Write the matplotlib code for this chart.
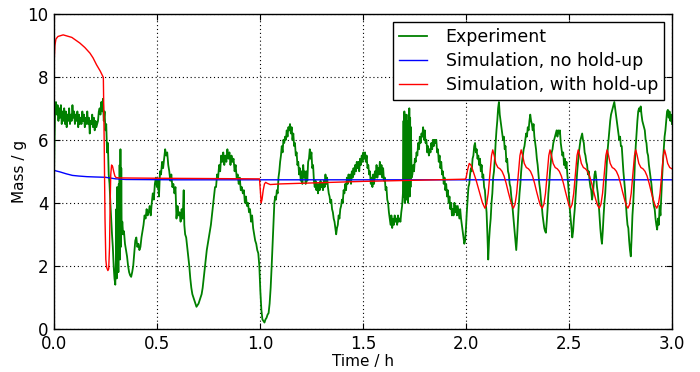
import matplotlib
matplotlib.use("Agg")
import matplotlib.pyplot as plt

# Experiment: mass readings (time in h, mass in g)
exp_t = [
    0.000, 0.003, 0.006, 0.010, 0.014, 0.018, 0.022, 0.026, 0.030, 0.034, 0.038, 0.042, 0.046, 0.050,
    0.054, 0.058, 0.062, 0.066, 0.070, 0.074, 0.078, 0.082, 0.086, 0.090, 0.094, 0.098, 0.102, 0.106,
    0.110, 0.114, 0.118, 0.122, 0.126, 0.130, 0.134, 0.138, 0.142, 0.146, 0.150, 0.154, 0.158, 0.162,
    0.166, 0.170, 0.174, 0.178, 0.182, 0.186, 0.190, 0.194, 0.198, 0.202, 0.206, 0.210, 0.214, 0.218,
    0.222, 0.226, 0.230, 0.234, 0.238, 0.242, 0.246, 0.250, 0.254, 0.258, 0.262, 0.266, 0.270, 0.274,
    0.278, 0.282, 0.286, 0.290, 0.294, 0.298, 0.301, 0.303, 0.305, 0.307, 0.309, 0.311, 0.313, 0.315,
    0.317, 0.319, 0.321, 0.323, 0.325, 0.327, 0.329, 0.332, 0.336, 0.340, 0.345, 0.350, 0.355, 0.360,
    0.365, 0.370, 0.375, 0.380, 0.385, 0.390, 0.395, 0.400, 0.405, 0.410, 0.415, 0.420, 0.425, 0.430,
    0.435, 0.440, 0.445, 0.450, 0.455, 0.460, 0.465, 0.470, 0.475, 0.480, 0.485, 0.490, 0.495, 0.500,
    0.505, 0.510, 0.515, 0.520, 0.525, 0.530, 0.535, 0.540, 0.545, 0.550, 0.555, 0.560, 0.565, 0.570,
    0.575, 0.580, 0.585, 0.590, 0.595, 0.600, 0.605, 0.610, 0.615, 0.620, 0.625, 0.630, 0.633, 0.637,
    0.642, 0.647, 0.652, 0.657, 0.662, 0.667, 0.672, 0.677, 0.682, 0.687, 0.692, 0.697, 0.702, 0.707,
    0.712, 0.717, 0.722, 0.727, 0.732, 0.737, 0.742, 0.747, 0.752, 0.757, 0.762, 0.767, 0.772, 0.777,
    0.782, 0.787, 0.792, 0.797, 0.802, 0.807, 0.812, 0.817, 0.822, 0.827, 0.832, 0.837, 0.842, 0.847,
    0.852, 0.857, 0.862, 0.867, 0.872, 0.877, 0.882, 0.887, 0.892, 0.897, 0.902, 0.907, 0.912, 0.917,
    0.922, 0.927, 0.932, 0.937, 0.942, 0.947, 0.952, 0.957, 0.962, 0.967, 0.972, 0.977, 0.982, 0.987,
    0.992, 0.997, 1.002, 1.007, 1.012, 1.017, 1.022, 1.027, 1.032, 1.037, 1.042, 1.047, 1.052, 1.057,
    1.062, 1.066, 1.070, 1.074, 1.078, 1.082, 1.086, 1.090, 1.094, 1.098, 1.102, 1.106, 1.110, 1.114,
    1.118, 1.122, 1.126, 1.130, 1.134, 1.138, 1.142, 1.146, 1.150, 1.154, 1.158, 1.162, 1.166, 1.170,
    1.174, 1.178, 1.182, 1.186, 1.190, 1.194, 1.198, 1.202, 1.206, 1.210, 1.214, 1.218, 1.222, 1.226,
    1.230, 1.234, 1.238, 1.242, 1.246, 1.250, 1.254, 1.258, 1.262, 1.266, 1.270, 1.274, 1.278, 1.282,
    1.286, 1.290, 1.294, 1.298, 1.302, 1.306, 1.310, 1.314, 1.318, 1.322, 1.326, 1.330, 1.334, 1.338,
    1.342, 1.346, 1.350, 1.354, 1.358, 1.362, 1.366, 1.370, 1.374, 1.378, 1.382, 1.386, 1.390, 1.394,
    1.398, 1.402, 1.406, 1.410, 1.414, 1.418, 1.422, 1.426, 1.430, 1.434, 1.438, 1.442, 1.446, 1.450,
    1.454, 1.458, 1.462, 1.466, 1.470, 1.474, 1.478, 1.482, 1.486, 1.490, 1.494, 1.498, 1.502, 1.506,
    1.510, 1.514, 1.518, 1.522, 1.526, 1.530, 1.534, 1.538, 1.542, 1.546, 1.550, 1.554, 1.558, 1.562,
    1.566, 1.570, 1.574, 1.578, 1.582, 1.586, 1.590, 1.594, 1.598, 1.602, 1.606, 1.610, 1.614, 1.618,
    1.622, 1.626, 1.630, 1.634, 1.638, 1.642, 1.646, 1.650, 1.654, 1.658, 1.662, 1.666, 1.670, 1.674,
    1.678, 1.682, 1.686, 1.690, 1.694, 1.697, 1.699, 1.701, 1.703, 1.705, 1.707, 1.709, 1.711, 1.713,
    1.715, 1.717, 1.719, 1.721, 1.723, 1.725, 1.727, 1.729, 1.731, 1.733, 1.736, 1.740, 1.744, 1.748,
    1.752, 1.756, 1.760, 1.764, 1.768, 1.772, 1.776, 1.780, 1.784, 1.788, 1.792, 1.796, 1.800, 1.804,
    1.808, 1.812, 1.816, 1.820, 1.824, 1.828, 1.832, 1.836, 1.840, 1.844, 1.848, 1.852, 1.856, 1.860,
    1.864, 1.868, 1.872, 1.876, 1.880, 1.884, 1.888, 1.892, 1.896, 1.900, 1.904, 1.908, 1.912, 1.916,
    1.920, 1.924, 1.928, 1.932, 1.936, 1.940, 1.944, 1.948, 1.952, 1.956, 1.960, 1.964, 1.968, 1.972,
    1.976, 1.980, 1.984, 1.988, 1.992, 1.996, 2.000, 2.004, 2.008, 2.012, 2.016, 2.020, 2.024, 2.028,
    2.032, 2.036, 2.040, 2.044, 2.048, 2.052, 2.056, 2.060, 2.064, 2.068, 2.072, 2.076, 2.080, 2.084,
    2.088, 2.092, 2.096, 2.100, 2.104, 2.108, 2.112, 2.116, 2.120, 2.124, 2.128, 2.132, 2.136, 2.140,
    2.144, 2.148, 2.152, 2.156, 2.160, 2.164, 2.168, 2.172, 2.176, 2.180, 2.184, 2.188, 2.192, 2.196,
    2.200, 2.204, 2.208, 2.212, 2.216, 2.220, 2.224, 2.228, 2.232, 2.236, 2.240, 2.244, 2.248, 2.252,
    2.256, 2.260, 2.264, 2.268, 2.272, 2.276, 2.280, 2.284, 2.288, 2.292, 2.296, 2.300, 2.304, 2.308,
    2.312, 2.316, 2.320, 2.324, 2.328, 2.332, 2.336, 2.340, 2.344, 2.348, 2.352, 2.356, 2.360, 2.364,
    2.368, 2.372, 2.376, 2.380, 2.384, 2.388, 2.392, 2.396, 2.400, 2.404, 2.408, 2.412, 2.416, 2.420,
    2.424, 2.428, 2.432, 2.436, 2.440, 2.444, 2.448, 2.452, 2.456, 2.460, 2.464, 2.468, 2.472, 2.476,
    2.480, 2.484, 2.488, 2.492, 2.496, 2.500, 2.504, 2.508, 2.512, 2.516, 2.520, 2.524, 2.528, 2.532,
    2.536, 2.540, 2.544, 2.548, 2.552, 2.556, 2.560, 2.564, 2.568, 2.572, 2.576, 2.580, 2.584, 2.588,
    2.592, 2.596, 2.600, 2.604, 2.608, 2.612, 2.616, 2.620, 2.624, 2.628, 2.632, 2.636, 2.640, 2.644,
    2.648, 2.652, 2.656, 2.660, 2.664, 2.668, 2.672, 2.676, 2.680, 2.684, 2.688, 2.692, 2.696, 2.700,
    2.704, 2.708, 2.712, 2.716, 2.720, 2.724, 2.728, 2.732, 2.736, 2.740, 2.744, 2.748, 2.752, 2.756,
    2.760, 2.764, 2.768, 2.772, 2.776, 2.780, 2.784, 2.788, 2.792, 2.796, 2.800, 2.804, 2.808, 2.812,
    2.816, 2.820, 2.824, 2.828, 2.832, 2.836, 2.840, 2.844, 2.848, 2.852, 2.856, 2.860, 2.864, 2.868,
    2.872, 2.876, 2.880, 2.884, 2.888, 2.892, 2.896, 2.900, 2.904, 2.908, 2.912, 2.916, 2.920, 2.924,
    2.928, 2.932, 2.936, 2.940, 2.944, 2.948, 2.952, 2.956, 2.960, 2.964, 2.968, 2.972, 2.976, 2.980,
    2.984, 2.988, 2.992, 2.996, 3.000,
]
exp_mass = [
    4.5, 6.0, 7.0, 7.2, 6.8, 7.1, 6.6, 7.0, 6.7, 7.1, 6.5, 6.9, 6.6, 7.0,
    6.5, 6.9, 6.4, 6.8, 6.6, 7.0, 6.5, 6.8, 6.6, 7.1, 6.7, 6.9, 6.5, 6.8,
    6.6, 6.9, 6.4, 6.8, 6.5, 6.7, 6.5, 6.9, 6.6, 6.8, 6.4, 6.7, 6.5, 6.9,
    6.5, 6.7, 6.2, 6.6, 6.5, 6.8, 6.4, 6.7, 6.3, 6.6, 6.4, 6.5, 6.6, 6.9,
    7.0, 6.8, 7.2, 6.9, 7.3, 6.6, 6.9, 6.3, 6.5, 5.6, 5.9, 4.9, 4.6, 4.0,
    3.5, 3.0, 2.6, 2.0, 1.6, 1.4, 2.2, 3.8, 1.6, 4.5, 2.0, 3.9, 1.8, 4.6,
    2.4, 5.2, 2.2, 5.7, 2.6, 5.1, 3.0, 3.4, 3.0, 3.1, 2.7, 2.5, 2.3, 2.0,
    1.8, 1.7, 1.65, 1.8, 2.0, 2.4, 2.8, 2.9, 2.6, 2.7, 2.5, 2.6, 2.9, 3.1,
    3.3, 3.6, 3.5, 3.8, 3.6, 3.7, 3.9, 3.6, 4.0, 4.3, 4.1, 4.6, 4.8, 4.5,
    4.7, 4.2, 5.0, 4.9, 5.3, 5.1, 5.4, 5.7, 5.5, 5.6, 5.2, 5.0, 4.7, 4.9,
    4.5, 4.6, 4.3, 4.5, 3.5, 3.9, 3.6, 3.7, 3.4, 3.8, 3.5, 4.4, 3.3, 3.0,
    2.9, 2.6, 2.3, 2.0, 1.6, 1.3, 1.1, 1.0, 0.9, 0.8, 0.7, 0.75, 0.8, 0.9,
    1.0, 1.1, 1.3, 1.6, 1.9, 2.2, 2.5, 2.7, 2.9, 3.1, 3.3, 3.6, 3.9, 4.2,
    4.5, 4.5, 4.9, 4.8, 5.2, 5.0, 5.5, 5.3, 5.6, 5.2, 5.5, 5.3, 5.7, 5.4,
    5.6, 5.2, 5.5, 5.3, 5.4, 5.0, 5.2, 4.8, 4.9, 4.6, 4.8, 4.4, 4.5, 4.3,
    4.4, 4.0, 4.2, 3.9, 4.0, 3.7, 3.8, 3.4, 3.6, 3.2, 3.0, 2.8, 2.7, 2.5,
    2.4, 2.0, 1.2, 0.6, 0.3, 0.25, 0.2, 0.3, 0.35, 0.45, 0.5, 0.8, 1.3, 2.0,
    2.8, 3.5, 4.0, 4.2, 4.1, 4.4, 4.3, 4.8, 5.0, 5.3, 5.5, 5.8, 5.6, 6.0,
    5.9, 6.1, 6.0, 6.3, 6.1, 6.4, 6.3, 6.5, 6.2, 6.4, 6.0, 6.2, 5.8, 5.9,
    5.5, 5.6, 5.2, 5.3, 4.9, 5.1, 4.7, 5.0, 4.6, 5.2, 4.8, 5.0, 4.6, 5.0,
    4.7, 5.3, 5.4, 5.7, 5.4, 5.6, 5.1, 5.2, 4.7, 4.5, 4.7, 4.4, 4.6, 4.3,
    4.6, 4.4, 4.7, 4.5, 4.6, 4.4, 4.7, 4.5, 4.9, 4.6, 4.8, 4.5, 4.3, 4.2,
    4.0, 4.1, 3.8, 3.7, 3.5, 3.4, 3.2, 3.0, 3.2, 3.3, 3.6, 3.5, 3.8, 3.9,
    4.1, 4.0, 4.4, 4.3, 4.6, 4.4, 4.8, 4.6, 4.9, 4.7, 4.9, 4.6, 5.0, 4.8,
    5.1, 4.9, 5.2, 5.0, 5.3, 5.1, 5.3, 5.0, 5.4, 5.2, 5.5, 5.3, 5.6, 5.4,
    5.6, 5.3, 5.5, 5.1, 5.2, 4.9, 5.0, 4.6, 4.8, 4.5, 4.9, 4.6, 5.0, 4.8,
    5.2, 4.8, 5.1, 4.9, 5.3, 4.9, 5.2, 4.8, 5.1, 4.7, 4.8, 4.4, 4.5, 4.1,
    4.0, 3.7, 3.5, 3.3, 3.6, 3.2, 3.5, 3.3, 3.6, 3.4, 3.5, 3.3, 3.6, 3.4,
    3.5, 3.4, 3.7, 3.9, 4.3, 6.6, 4.2, 6.9, 4.0, 6.5, 4.3, 6.8, 4.1, 6.2,
    4.4, 6.6, 4.0, 6.8, 4.5, 7.0, 4.2, 6.7, 4.5, 6.4, 4.8, 4.9, 5.2, 5.0,
    5.4, 5.3, 5.6, 5.5, 5.9, 5.7, 6.1, 5.9, 6.2, 6.1, 6.4, 6.0, 6.3, 5.9,
    6.0, 5.6, 5.8, 5.5, 5.7, 5.6, 5.9, 5.7, 6.0, 5.8, 6.0, 5.9, 6.0, 5.6,
    5.7, 5.3, 5.5, 5.1, 5.3, 4.9, 5.0, 4.6, 4.8, 4.4, 4.6, 4.2, 4.4, 4.0,
    4.2, 3.8, 4.0, 3.6, 3.8, 3.6, 4.0, 3.7, 3.9, 3.6, 3.9, 3.7, 3.5, 3.8,
    3.5, 3.3, 3.1, 2.9, 2.7, 2.8, 3.2, 3.7, 4.1, 4.5, 4.6, 4.9, 5.1, 5.0,
    5.4, 5.5, 5.8, 5.9, 5.6, 5.7, 5.4, 5.5, 5.2, 5.4, 5.0, 5.2, 4.8, 4.9,
    4.5, 4.4, 4.0, 3.7, 3.0, 2.2, 2.8, 3.2, 3.5, 4.0, 4.3, 4.8, 5.0, 5.4,
    5.9, 6.3, 6.6, 7.0, 7.2, 6.8, 6.6, 6.4, 6.2, 6.0, 6.1, 5.7, 5.8, 5.3,
    5.4, 5.0, 4.9, 4.6, 4.5, 4.2, 4.0, 3.7, 3.4, 3.1, 2.8, 2.5, 2.9, 3.4,
    3.9, 4.3, 4.6, 5.0, 5.3, 5.5, 5.7, 5.8, 6.0, 6.2, 6.1, 6.4, 6.3, 6.6,
    6.8, 6.6, 6.5, 6.3, 6.5, 6.1, 5.9, 5.7, 5.4, 5.2, 4.9, 4.6, 4.4, 4.1,
    3.9, 3.6, 3.4, 3.2, 3.1, 3.05, 3.4, 3.8, 4.3, 4.6, 5.0, 5.3, 5.6, 5.7,
    5.9, 6.0, 6.1, 6.2, 6.3, 6.1, 6.3, 6.2, 6.3, 5.9, 5.7, 5.5, 5.6, 5.2,
    5.4, 5.1, 5.3, 4.9, 4.6, 4.2, 3.8, 3.5, 3.2, 2.9, 3.1, 3.5, 3.8, 4.2,
    4.6, 5.0, 5.3, 5.6, 5.8, 6.0, 6.1, 6.2, 6.0, 5.9, 5.6, 5.5, 5.3, 5.2,
    4.9, 5.0, 4.7, 4.5, 4.4, 4.1, 4.3, 4.6, 4.9, 5.0, 4.8, 4.5, 4.3, 4.0,
    3.6, 3.2, 2.9, 2.7, 3.1, 3.6, 4.0, 4.3, 4.8, 5.3, 5.7, 6.0, 6.3, 6.6,
    6.8, 6.9, 7.0, 7.1, 7.2, 7.0, 6.8, 6.6, 6.4, 6.2, 6.0, 6.1, 5.8, 5.8,
    5.4, 5.0, 4.7, 4.4, 4.0, 3.6, 3.3, 3.2, 2.8, 2.5, 2.3, 2.9, 3.6, 4.0,
    4.6, 5.3, 5.8, 6.2, 6.6, 6.9, 7.0, 6.9, 7.06, 6.8, 6.6, 6.5, 6.4, 6.3,
    6.0, 5.9, 5.6, 5.5, 5.2, 5.0, 4.8, 4.6, 4.3, 4.1, 3.9, 3.8, 3.5, 3.3,
    3.15, 3.5, 3.3, 3.9, 3.6, 4.2, 4.8, 5.3, 5.7, 6.1, 6.3, 6.6, 6.9, 6.95,
    6.7, 6.9, 6.6, 6.8, 6.5,
]

# Simulation without hold-up
sim_t = [0.00, 0.03, 0.06, 0.09, 0.12, 0.16, 0.20, 0.25, 0.27, 0.30, 0.35, 0.60, 3.00]
sim_mass = [5.03, 4.98, 4.92, 4.87, 4.85, 4.83, 4.82, 4.81, 4.79, 4.76, 4.74, 4.73, 4.73]

# Simulation with hold-up
hold_t = [
    0.000, 0.002, 0.005, 0.010, 0.020, 0.045, 0.087, 0.126, 0.150, 0.175, 0.190, 0.207, 0.225, 0.240,
    0.244, 0.248, 0.252, 0.256, 0.262, 0.266, 0.270, 0.273, 0.276, 0.280, 0.285, 0.290, 0.296, 0.302,
    0.320, 0.500, 0.800, 0.998, 1.002, 1.006, 1.010, 1.016, 1.022, 1.028, 1.035, 1.050, 1.100, 1.500,
    1.995, 2.000, 2.008, 2.016, 2.024, 2.035, 2.050, 2.065, 2.080, 2.092, 2.100, 2.108, 2.116, 2.124,
    2.130, 2.137, 2.145, 2.155, 2.165, 2.175, 2.185, 2.195, 2.205, 2.215, 2.223,
    2.230, 2.238, 2.246, 2.254, 2.262, 2.268, 2.275, 2.283, 2.293, 2.303, 2.313, 2.323, 2.333, 2.343, 2.353, 2.361,
    2.370, 2.378, 2.386, 2.394, 2.402, 2.408, 2.415, 2.423, 2.433, 2.443, 2.453, 2.463, 2.473, 2.483, 2.493, 2.500,
    2.507, 2.515, 2.523, 2.531, 2.539, 2.545, 2.552, 2.560, 2.570, 2.580, 2.590, 2.600, 2.610, 2.620, 2.630, 2.639,
    2.647, 2.655, 2.663, 2.671, 2.679, 2.685, 2.692, 2.700, 2.710, 2.720, 2.730, 2.740, 2.750, 2.760, 2.770, 2.778,
    2.786, 2.794, 2.802, 2.810, 2.818, 2.824, 2.831, 2.839, 2.849, 2.859, 2.869, 2.879, 2.889, 2.899, 2.909, 2.918,
    2.926, 2.934, 2.942, 2.950, 2.958, 2.964, 2.971, 2.979, 2.989, 3.000,
]
hold_mass = [
    7.6, 8.6, 9.0, 9.2, 9.28, 9.33, 9.25, 9.07, 8.93, 8.75, 8.6, 8.38, 8.18, 7.98,
    6.0, 3.5, 2.2, 1.95, 1.85, 1.9, 2.6, 4.0, 4.9, 5.2, 5.15, 5.0, 4.85, 4.8,
    4.79, 4.78, 4.77, 4.76, 4.4, 4.0, 4.1, 4.4, 4.6, 4.65, 4.62, 4.58, 4.6, 4.68,
    4.75, 4.78, 5.05, 5.25, 5.2, 5.0, 4.7, 4.35, 4.0, 3.83, 3.95, 4.3, 4.9, 5.5,
    5.68, 5.5, 5.25, 5.12, 5.08, 5.0, 4.85, 4.62, 4.35, 4.1, 3.92,
    3.83, 3.95, 4.3, 4.9, 5.5, 5.68, 5.5, 5.25, 5.12, 5.08, 5.0, 4.85, 4.62, 4.35, 4.1, 3.92,
    3.83, 3.95, 4.3, 4.9, 5.5, 5.68, 5.5, 5.25, 5.12, 5.08, 5.0, 4.85, 4.62, 4.35, 4.1, 3.92,
    3.83, 3.95, 4.3, 4.9, 5.5, 5.68, 5.5, 5.25, 5.12, 5.08, 5.0, 4.85, 4.62, 4.35, 4.1, 3.92,
    3.83, 3.95, 4.3, 4.9, 5.5, 5.68, 5.5, 5.25, 5.12, 5.08, 5.0, 4.85, 4.62, 4.35, 4.1, 3.92,
    3.83, 3.95, 4.3, 4.9, 5.5, 5.68, 5.5, 5.25, 5.12, 5.08, 5.0, 4.85, 4.62, 4.35, 4.1, 3.92,
    3.83, 3.95, 4.3, 4.9, 5.5, 5.68, 5.5, 5.25, 5.12, 5.08,
]

fig = plt.figure(figsize=(7.0, 3.72), dpi=100)
ax = fig.add_axes([0.077, 0.116, 0.883, 0.847])

ax.plot(exp_t, exp_mass, color=(0, 0.5, 0), linewidth=1.3, label="Experiment")
ax.plot(sim_t, sim_mass, color=(0, 0, 1), linewidth=1.0, label="Simulation, no hold-up")
ax.plot(hold_t, hold_mass, color=(1, 0, 0), linewidth=1.0, label="Simulation, with hold-up")

ax.set_xlim(0, 3.0)
ax.set_ylim(0, 10)
ax.set_xticks([0.0, 0.5, 1.0, 1.5, 2.0, 2.5, 3.0])
ax.set_xticklabels(["0.0", "0.5", "1.0", "1.5", "2.0", "2.5", "3.0"])
ax.set_yticks([0, 2, 4, 6, 8, 10])
ax.tick_params(direction="in", top=True, right=True, labelsize=12, length=4, width=0.8)
ax.tick_params(axis="x", pad=4.5)
ax.tick_params(axis="y", pad=4)
ax.grid(True, color="black", linestyle=(0, (1, 2.5)), linewidth=0.8)
for spine in ax.spines.values():
    spine.set_linewidth(1.0)

ax.set_xlabel("Time / h", fontsize=11, labelpad=1)
ax.set_ylabel("Mass / g", fontsize=11, labelpad=0)

leg = ax.legend(loc="upper right", fontsize=12.5, fancybox=False, framealpha=1,
                edgecolor="black", borderaxespad=0.45, handlelength=1.6,
                handletextpad=1.1, labelspacing=0.35, borderpad=0.35)
leg.get_frame().set_linewidth(1.0)

fig.savefig("out.png", dpi=100)
